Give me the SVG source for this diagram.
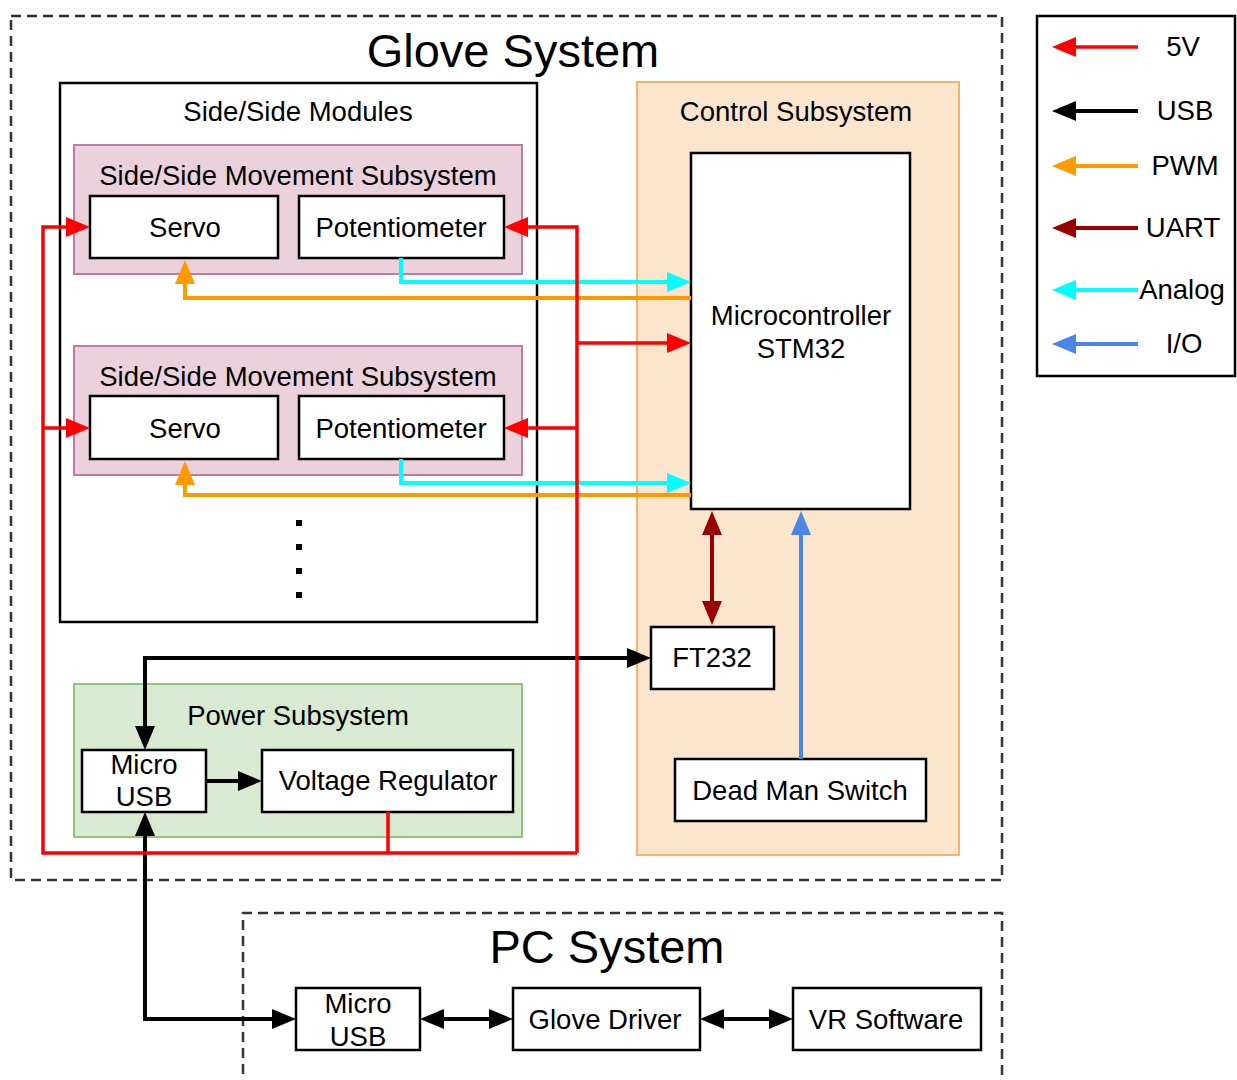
<svg xmlns="http://www.w3.org/2000/svg" width="1237" height="1080" viewBox="0 0 1237 1080">
<style>
text{font-family:"Liberation Sans",Arial,sans-serif;fill:#000;text-anchor:middle}
.t27{font-size:27.5px}
.t47{font-size:47px}
.dash{fill:none;stroke:#333;stroke-width:2.5;stroke-dasharray:10 6}
.box{fill:#fff;stroke:#000;stroke-width:2.5}
.pink{fill:#ead1dc;stroke:#c27ba0;stroke-width:2}
.green{fill:#d9ead3;stroke:#93c47d;stroke-width:2}
.peach{fill:#fce5cd;stroke:#f6b26b;stroke-width:2}
.c{fill:none;stroke-linejoin:miter}
.red{stroke:#ff0000;stroke-width:3.5}
.blk{stroke:#000;stroke-width:4}
.org{stroke:#ff9900;stroke-width:4}
.cyn{stroke:#00ffff;stroke-width:4}
.urt{stroke:#990000;stroke-width:4}
.blu{stroke:#4a86e8;stroke-width:4}
</style>
<defs>
<marker id="mr" viewBox="0 0 24 20" refX="12" refY="10" markerWidth="24" markerHeight="20" markerUnits="userSpaceOnUse" orient="auto-start-reverse"><path d="M0,0 L24,10 L0,20 z" fill="#ff0000"/></marker>
<marker id="mk" viewBox="0 0 24 20" refX="12" refY="10" markerWidth="24" markerHeight="20" markerUnits="userSpaceOnUse" orient="auto-start-reverse"><path d="M0,0 L24,10 L0,20 z" fill="#000"/></marker>
<marker id="mo" viewBox="0 0 24 20" refX="12" refY="10" markerWidth="24" markerHeight="20" markerUnits="userSpaceOnUse" orient="auto-start-reverse"><path d="M0,0 L24,10 L0,20 z" fill="#ff9900"/></marker>
<marker id="mc" viewBox="0 0 24 20" refX="12" refY="10" markerWidth="24" markerHeight="20" markerUnits="userSpaceOnUse" orient="auto-start-reverse"><path d="M0,0 L24,10 L0,20 z" fill="#00ffff"/></marker>
<marker id="mu" viewBox="0 0 24 20" refX="12" refY="10" markerWidth="24" markerHeight="20" markerUnits="userSpaceOnUse" orient="auto-start-reverse"><path d="M0,0 L24,10 L0,20 z" fill="#990000"/></marker>
<marker id="mb" viewBox="0 0 24 20" refX="12" refY="10" markerWidth="24" markerHeight="20" markerUnits="userSpaceOnUse" orient="auto-start-reverse"><path d="M0,0 L24,10 L0,20 z" fill="#4a86e8"/></marker>
</defs>
<rect width="1237" height="1080" fill="#fff"/>

<g id="glove-system">
<rect class="dash" x="11" y="16" width="991" height="864"/>
<text class="t47" x="513" y="67">Glove System</text>
</g>

<g id="side-modules">
<rect class="box" x="60" y="83" width="477" height="539"/>
<text class="t27" x="298" y="121">Side/Side Modules</text>
<g id="dots" fill="#000">
<rect x="296" y="520" width="6" height="6"/>
<rect x="296" y="544" width="6" height="6"/>
<rect x="296" y="568" width="6" height="6"/>
<rect x="296" y="592" width="6" height="6"/>
</g>
</g>

<g id="movement-subsystem-1">
<rect class="pink" x="74" y="145" width="448" height="129"/>
<text class="t27" x="298" y="185">Side/Side Movement Subsystem</text>
</g>
<g id="servo-1"><rect class="box" x="90" y="196" width="188" height="62"/><text class="t27" x="185" y="237">Servo</text></g>
<g id="pot-1"><rect class="box" x="299" y="196" width="205" height="62"/><text class="t27" x="401" y="237">Potentiometer</text></g>

<g id="movement-subsystem-2">
<rect class="pink" x="74" y="346" width="448" height="129"/>
<text class="t27" x="298" y="386">Side/Side Movement Subsystem</text>
</g>
<g id="servo-2"><rect class="box" x="90" y="396" width="188" height="63"/><text class="t27" x="185" y="438">Servo</text></g>
<g id="pot-2"><rect class="box" x="299" y="396" width="205" height="63"/><text class="t27" x="401" y="438">Potentiometer</text></g>

<g id="control-subsystem">
<rect class="peach" x="637" y="82" width="322" height="773"/>
<text class="t27" x="796" y="121">Control Subsystem</text>
</g>
<g id="mcu"><rect class="box" x="691" y="153" width="219" height="356"/><text class="t27" x="801" y="325">Microcontroller</text><text class="t27" x="801" y="358">STM32</text></g>
<g id="ft232"><rect class="box" x="651" y="627" width="123" height="62"/><text class="t27" x="712" y="667">FT232</text></g>
<g id="dead-man-switch"><rect class="box" x="675" y="759" width="251" height="62"/><text class="t27" x="800" y="800">Dead Man Switch</text></g>

<g id="power-subsystem">
<rect class="green" x="74" y="684" width="448" height="153"/>
<text class="t27" x="298" y="725">Power Subsystem</text>
</g>
<g id="micro-usb-glove"><rect class="box" x="82" y="750" width="124" height="62"/><text class="t27" x="144" y="774">Micro</text><text class="t27" x="144" y="806">USB</text></g>
<g id="voltage-regulator"><rect class="box" x="262" y="750" width="251" height="62"/><text class="t27" x="388" y="790">Voltage Regulator</text></g>

<g id="pc-system">
<path class="dash" d="M243,1090 V913 H1002 V1090"/>
<text class="t47" x="607" y="963">PC System</text>
</g>
<g id="micro-usb-pc"><rect class="box" x="296" y="988" width="124" height="62"/><text class="t27" x="358" y="1013">Micro</text><text class="t27" x="358" y="1046">USB</text></g>
<g id="glove-driver"><rect class="box" x="513" y="988" width="187" height="62"/><text class="t27" x="605" y="1029">Glove Driver</text></g>
<g id="vr-software"><rect class="box" x="793" y="988" width="188" height="62"/><text class="t27" x="886" y="1029">VR Software</text></g>

<g id="connectors">
<path class="c cyn" d="M401,258 V282 H679" marker-end="url(#mc)"/>
<path class="c cyn" d="M401,459 V483 H679" marker-end="url(#mc)"/>
<path class="c org" d="M691,298 H185 V272" marker-end="url(#mo)"/>
<path class="c org" d="M691,495 H185 V473" marker-end="url(#mo)"/>
<path class="c urt" d="M712,523 V613" marker-start="url(#mu)" marker-end="url(#mu)"/>
<path class="c blu" d="M801,759 V523" marker-end="url(#mb)"/>
<path class="c blk" d="M145,738 V658 H639" marker-start="url(#mk)" marker-end="url(#mk)"/>
<path class="c blk" d="M206,781 H250" marker-end="url(#mk)"/>
<path class="c blk" d="M145,824 V1019 H284" marker-start="url(#mk)" marker-end="url(#mk)"/>
<path class="c blk" d="M432,1019 H501" marker-start="url(#mk)" marker-end="url(#mk)"/>
<path class="c blk" d="M712,1019 H781" marker-start="url(#mk)" marker-end="url(#mk)"/>
<path class="c red" d="M388,812 V853"/>
<path class="c red" d="M577,853 H43 V227 H78" marker-end="url(#mr)"/>
<path class="c red" d="M43,428 H78" marker-end="url(#mr)"/>
<path class="c red" d="M577,853 V227 H516" marker-end="url(#mr)"/>
<path class="c red" d="M577,428 H516" marker-end="url(#mr)"/>
<path class="c red" d="M577,343 H679" marker-end="url(#mr)"/>
</g>

<g id="legend">
<rect x="1037" y="16" width="198" height="360" fill="#fff" stroke="#000" stroke-width="2.5"/>
<path class="c red" d="M1138,47 H1064" marker-end="url(#mr)"/>
<path class="c blk" d="M1138,111 H1064" marker-end="url(#mk)"/>
<path class="c org" d="M1138,166 H1064" marker-end="url(#mo)"/>
<path class="c urt" d="M1138,228 H1064" marker-end="url(#mu)"/>
<path class="c cyn" d="M1138,290 H1064" marker-end="url(#mc)"/>
<path class="c blu" d="M1138,344 H1064" marker-end="url(#mb)"/>
<text class="t27" x="1183" y="56">5V</text>
<text class="t27" x="1185" y="120">USB</text>
<text class="t27" x="1185" y="175">PWM</text>
<text class="t27" x="1183" y="237">UART</text>
<text class="t27" x="1182" y="299">Analog</text>
<text class="t27" x="1184" y="353">I/O</text>
</g>
</svg>
